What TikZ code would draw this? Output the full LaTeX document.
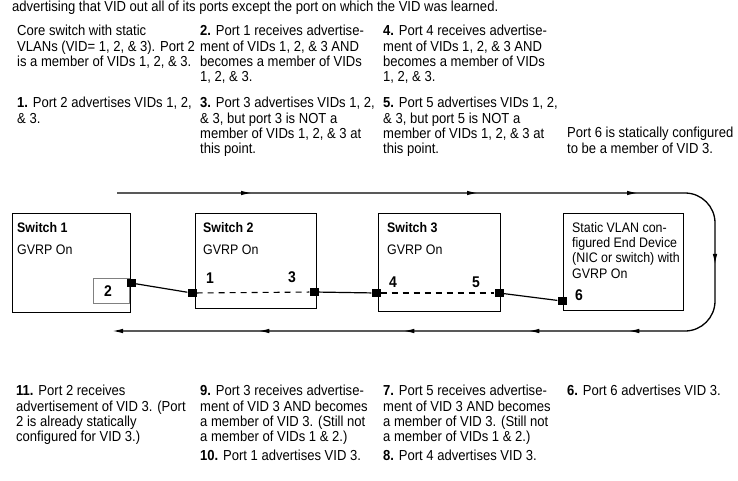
\documentclass[tikz,border=0pt]{standalone}
\usepackage{fontspec}
\setmainfont[FakeStretch=0.9]{Liberation Sans}
\usetikzlibrary{arrows.meta,decorations.markings}

\newcommand{\flowtip}{\arrow{Latex[length=11pt,width=4.5pt]}}

\tikzset{
  txt/.style={anchor=north west,align=left,inner sep=0pt,
    font=\fontsize{14.5}{15.4}\selectfont},
  boxtxt/.style={anchor=north west,align=left,inner sep=0pt,
    font=\fontsize{13.8}{15.3}\selectfont},
  swbox/.style={draw,line width=1.4pt,anchor=north west,inner sep=0pt},
  portsq/.style={fill=black,minimum width=9pt,minimum height=8pt,inner sep=0pt},
  portnum/.style={inner sep=0pt,font=\fontsize{15.5}{15.5}\selectfont\bfseries},
  link/.style={line width=1.2pt},
  vlanlink/.style={line width=1.1pt,dash pattern=on 6pt off 5pt}
}

\begin{document}
\begin{tikzpicture}[x=1pt,y=-1pt]
\useasboundingbox (0,0) rectangle (738,481);

\node[txt] (head) at (12,0.5) {advertising that VID out all of its ports except the port on which the VID was learned.};

% top notes
\node[txt] (core) at (17,25) {Core switch with static\\VLANs (VID= 1, 2, \& 3). Port 2\\is a member of VIDs 1, 2, \& 3.};
\node[txt] (st1) at (17,97) {\textbf{1.} Port 2 advertises VIDs 1, 2,\\\& 3.};
\node[txt] (st2) at (200,25) {\textbf{2.} Port 1 receives advertise-\\ment of VIDs 1, 2, \& 3 AND\\becomes a member of VIDs\\1, 2, \& 3.};
\node[txt] (st3) at (200,97) {\textbf{3.} Port 3 advertises VIDs 1, 2,\\\& 3, but port 3 is NOT a\\member of VIDs 1, 2, \& 3 at\\this point.};
\node[txt] (st4) at (383,25) {\textbf{4.} Port 4 receives advertise-\\ment of VIDs 1, 2, \& 3 AND\\becomes a member of VIDs\\1, 2, \& 3.};
\node[txt] (st5) at (383,97) {\textbf{5.} Port 5 advertises VIDs 1, 2,\\\& 3, but port 5 is NOT a\\member of VIDs 1, 2, \& 3 at\\this point.};
\node[txt] (stat6) at (567,127) {Port 6 is statically configured\\to be a member of VID 3.};

% boxes
\node[swbox,minimum width=118pt,minimum height=99pt] (sw1) at (12,213) {};
\node[swbox,minimum width=121pt,minimum height=95pt] (sw2) at (195,213) {};
\node[swbox,minimum width=122pt,minimum height=98pt] (sw3) at (378,213) {};
\node[swbox,minimum width=120pt,minimum height=97pt] (dev) at (563,213) {};
\node[draw=gray,line width=0.6pt,anchor=north west,minimum width=36pt,minimum height=25pt] (sw1p) at (93,278) {};

\node[boxtxt,font=\fontsize{13.8}{15.3}\selectfont\bfseries] (sw1n) at (17,222) {Switch 1};
\node[boxtxt] (sw1g) at (17,245) {GVRP On};
\node[boxtxt,font=\fontsize{13.8}{15.3}\selectfont\bfseries] (sw2n) at (203,222) {Switch 2};
\node[boxtxt] (sw2g) at (203,245) {GVRP On};
\node[boxtxt,font=\fontsize{13.8}{15.3}\selectfont\bfseries] (sw3n) at (387,222) {Switch 3};
\node[boxtxt] (sw3g) at (387,245) {GVRP On};
\node[boxtxt] (devt) at (572,222) {Static VLAN con-\\figured End Device\\(NIC or switch) with\\GVRP On};

% ports
\node[portsq] (port2) at (131,283) {};
\node[portsq] (port1) at (192,293) {};
\node[portsq] (port3) at (314,292) {};
\node[portsq] (port4) at (376,293) {};
\node[portsq] (port5) at (499,293) {};
\node[portsq] (port6) at (562,301) {};

\node[portnum] (n2) at (108,291) {2};
\node[portnum] (n1) at (210,278) {1};
\node[portnum] (n3) at (292,277) {3};
\node[portnum] (n4) at (393,282) {4};
\node[portnum] (n5) at (476,282) {5};
\node[portnum] (n6) at (579,295) {6};

\draw[link] (port2) -- (port1);
\draw[vlanlink] (port1) -- (port3);
\draw[link] (port3) -- (port4);
\draw[vlanlink] (port4) -- (port5);
\draw[link] (port5) -- (port6);

% advertisement loop
\coordinate (lp1) at (117,193);
\coordinate (lp2) at (715,193);
\coordinate (lp3) at (715,331);
\coordinate (lp4) at (112,331);
\draw[line width=1.3pt,rounded corners=30pt,-{Latex[length=11pt,width=4.5pt]},
  postaction=decorate,decoration={markings,
    mark=at position 135pt with {\flowtip},
    mark=at position 361pt with {\flowtip},
    mark=at position 521pt with {\flowtip},
    mark=at position 657pt with {\flowtip},
    mark=at position 797pt with {\flowtip},
    mark=at position 897pt with {\flowtip},
    mark=at position 1022pt with {\flowtip},
    mark=at position 1167pt with {\flowtip}}]
  (lp1) -- (lp2) -- (lp3) -- (lp4);

% bottom notes
\node[txt] (st11) at (16,385) {\textbf{11.} Port 2 receives\\advertisement of VID 3. (Port\\2 is already statically\\configured for VID 3.)};
\node[txt] (st9) at (200,385) {\textbf{9.} Port 3 receives advertise-\\ment of VID 3 AND becomes\\a member of VID 3. (Still not\\a member of VIDs 1 \& 2.)};
\node[txt] (st10) at (200,450) {\textbf{10.} Port 1 advertises VID 3.};
\node[txt] (st7) at (383,385) {\textbf{7.} Port 5 receives advertise-\\ment of VID 3 AND becomes\\a member of VID 3. (Still not\\a member of VIDs 1 \& 2.)};
\node[txt] (st8) at (383,450) {\textbf{8.} Port 4 advertises VID 3.};
\node[txt] (st6) at (567,385) {\textbf{6.} Port 6 advertises VID 3.};

\end{tikzpicture}
\end{document}
